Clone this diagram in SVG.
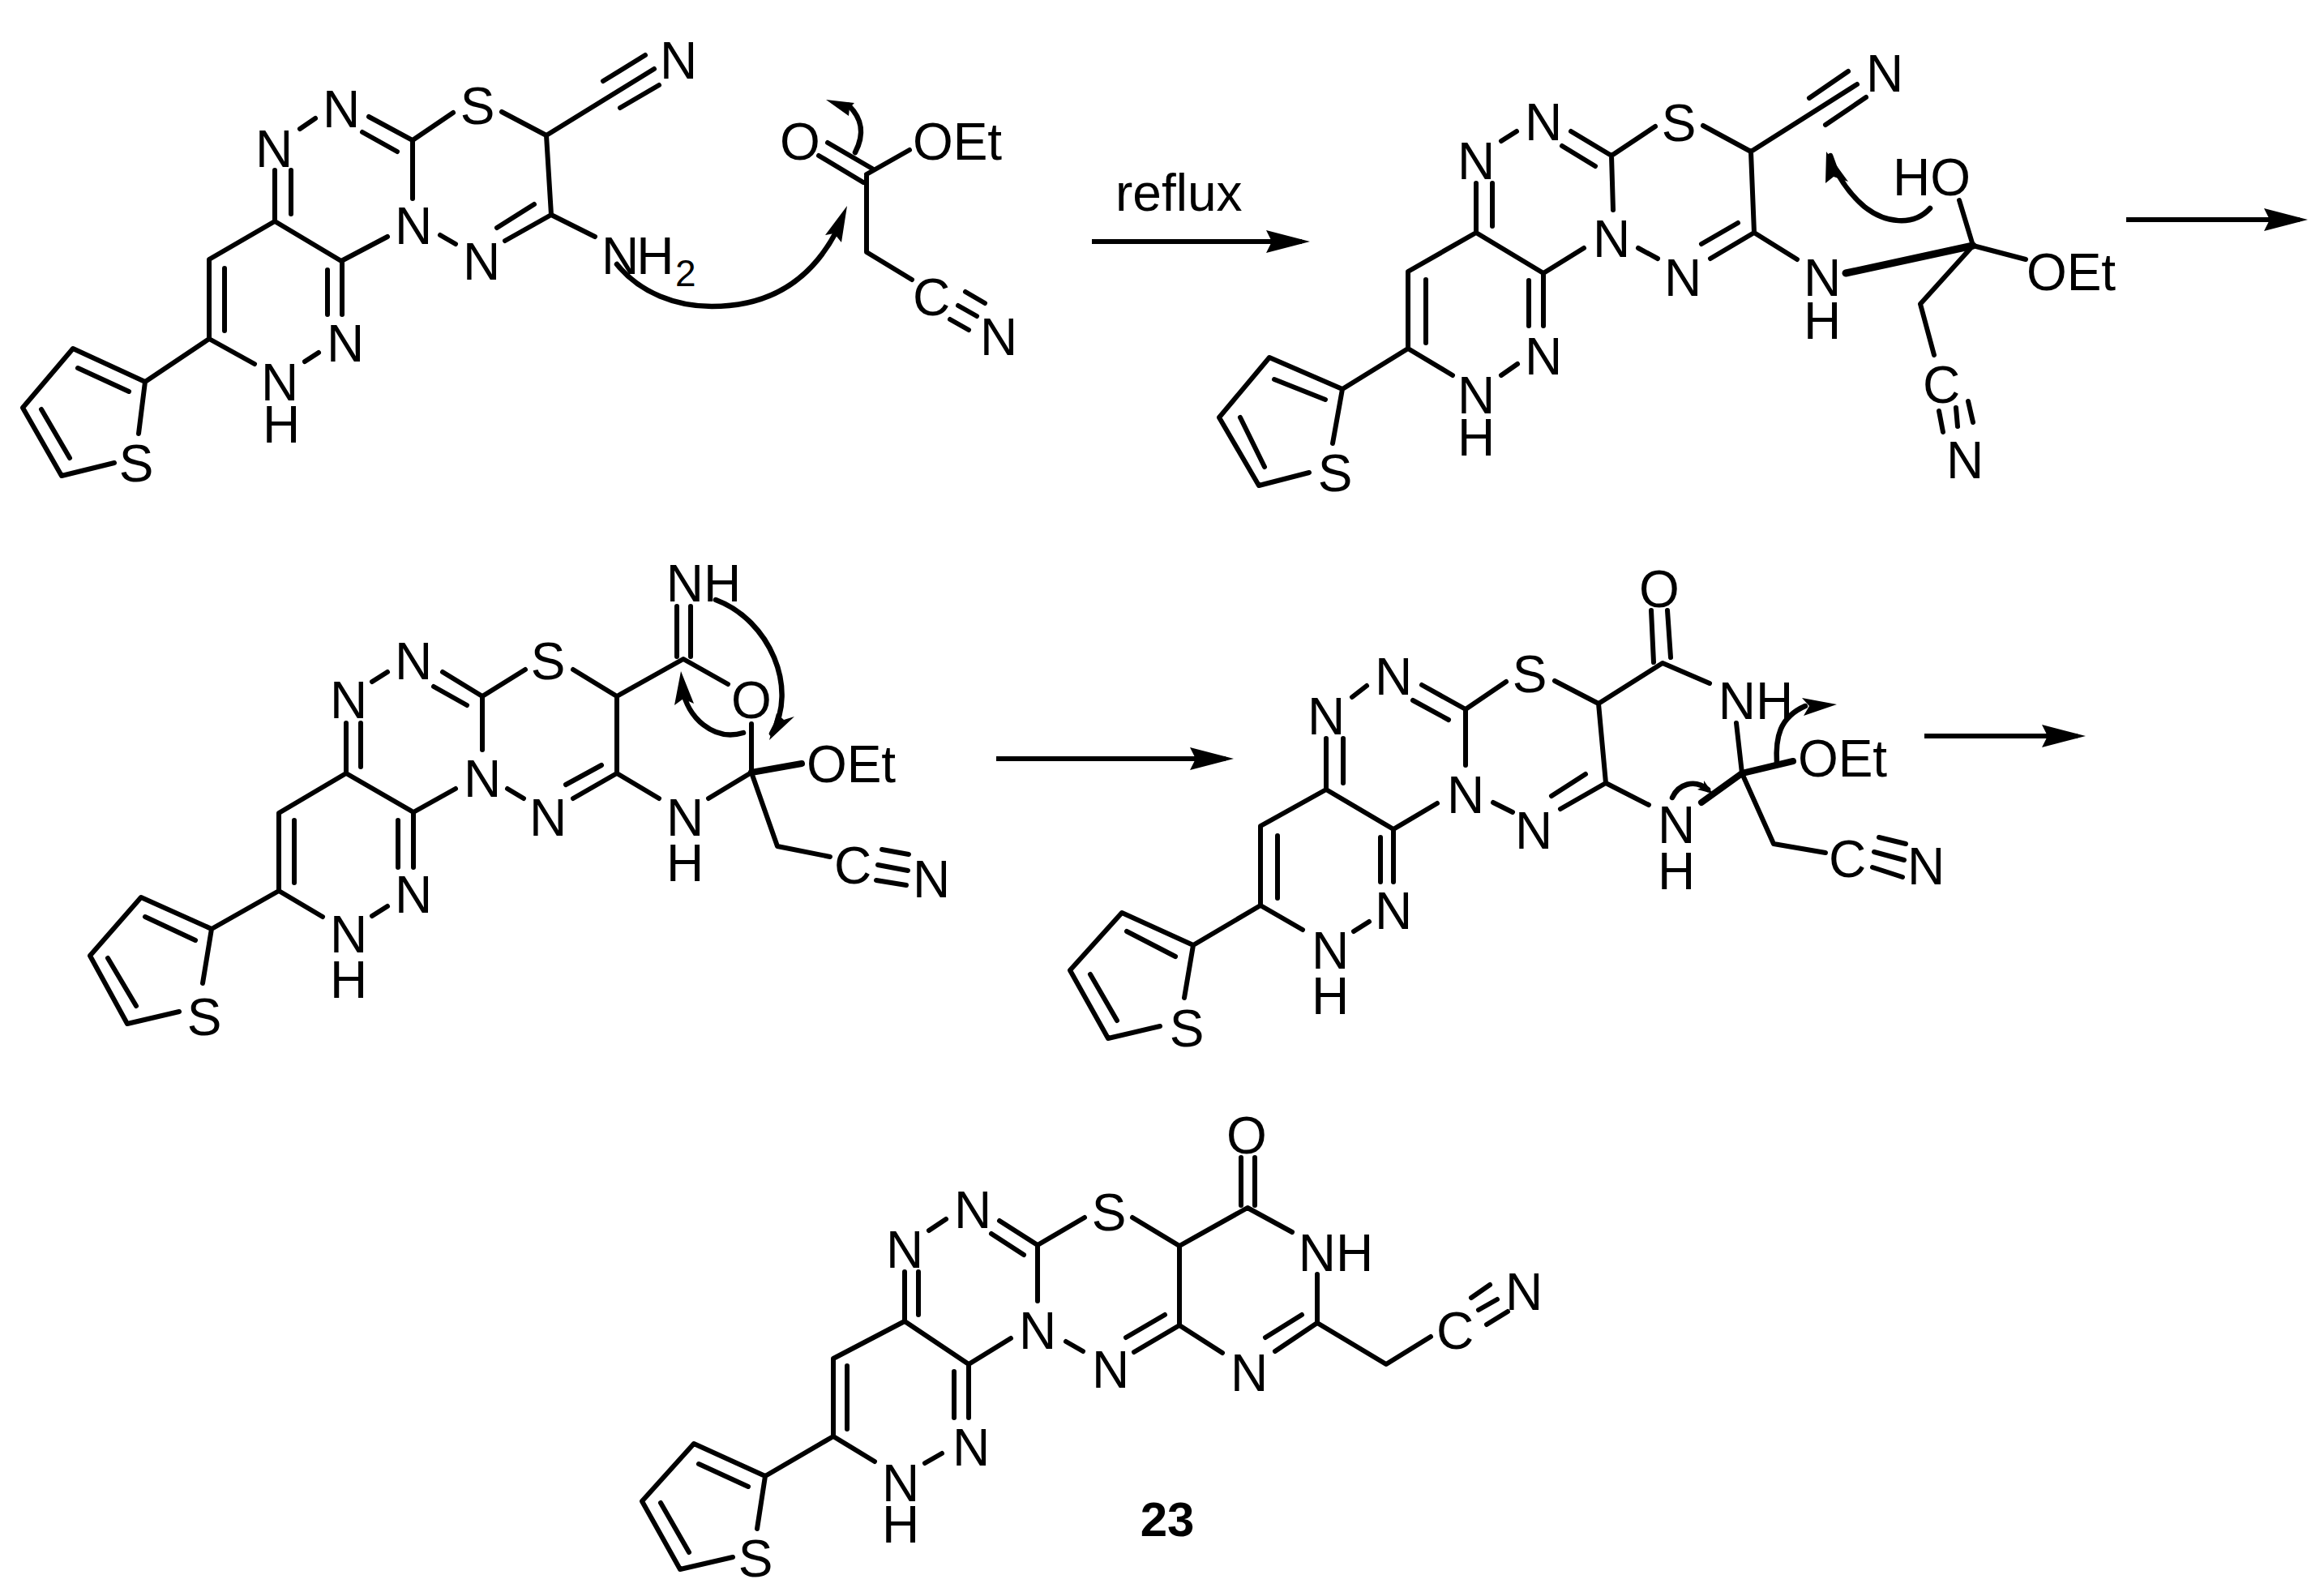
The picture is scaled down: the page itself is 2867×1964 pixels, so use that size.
<svg xmlns="http://www.w3.org/2000/svg" width="2867" height="1964" viewBox="0 0 2867 1964">
<style>
.b{fill:none;stroke:#000;stroke-width:6;stroke-linecap:round;stroke-linejoin:round}
.w{fill:none;stroke:#000;stroke-width:9;stroke-linecap:round}
.m{fill:none;stroke:#000;stroke-width:8;stroke-linecap:round}
.c{fill:none;stroke:#000;stroke-width:6.5;stroke-linecap:round}
.r{fill:none;stroke:#000;stroke-width:6}
.h{fill:#000;stroke:none}
text{font-family:"Liberation Sans",Arial,sans-serif;font-size:64px;fill:#000;text-anchor:middle}
.s{text-anchor:start}
.sub{font-size:46px;text-anchor:start}
.num{font-weight:bold;font-size:60px}
</style>
<defs>
<marker id="arr" markerUnits="userSpaceOnUse" markerWidth="56" markerHeight="30" refX="44" refY="14" orient="auto"><path d="M0,0 L54,14 L0,28 L7,14 z" fill="#000"/></marker>
</defs>
<rect width="2867" height="1964" fill="#fff"/>

<g id="molecule-1">
<path class="b" d="M171,535 L179,471 L90,430 L28,503 L76,587 L141,571 M96,454 L159,483 M51,505 L86,565 M179,471 L258,418 L314,449 M258,418 L258,320 L339,273 L339,210 M277,408 L277,331 M359,264 L359,210 M339,273 L421,322 L478,292 M422,322 L422,388 M404,333 L404,388 M376,446 L393,435 M370,159 L389,146 M455,144 L509,173 L559,139 M447,163 L490,187 M509,173 L509,245 M619,138 L674,167 L680,265 L623,297 M674,167 L807,85 M744,100 L796,68 M765,133 L813,105 M659,252 L613,281 M543,290 L562,301 M680,265 L734,292"/>
<text x="338" y="206">N</text><text x="421" y="157">N</text><text x="589" y="153">S</text><text x="510" y="301">N</text><text x="594" y="345">N</text><text x="837" y="97">N</text><text x="426" y="446">N</text><text x="345" y="494">N</text><text x="347" y="546">H</text><text x="168" y="594">S</text>
<text class="s" x="742" y="338" letter-spacing="-3">NH</text><text class="sub" x="833" y="353">2</text>
</g>

<g id="ethyl-cyanoacetate">
<path class="b" d="M1010,192 L1065,225 M1021,176 L1076,208 M1069,215 L1122,185 M1069,217 L1069,311 L1125,345 M1191,360 L1215,374 M1182,377 L1205,390 M1172,394 L1195,407"/>
<text x="987" y="197">O</text><text x="1181" y="197">OEt</text><text x="1149" y="389">C</text><text x="1232" y="438">N</text>
</g>

<g id="molecule-2">
<path class="b" d="M1644,547 L1656,480 L1566,441 L1504,515 L1553,599 L1615,583 M1572,468 L1635,493 M1530,515 L1560,576 M1656,480 L1737,430 L1792,463 M1737,430 L1737,335 L1821,287 L1821,226 M1759,345 L1759,423 M1841,279 L1841,226 M1821,287 L1904,337 L1954,306 M1904,337 L1904,402 M1886,346 L1886,402 M1852,463 L1872,449 M1852,174 L1871,162 M1938,162 L1988,192 L2042,156 M1927,180 L1968,205 M1988,192 L1990,259 M2101,155 L2160,187 L2164,287 L2110,319 M2160,187 L2291,104 M2232,121 L2280,88 M2252,154 L2302,120 M2144,275 L2099,301 M2021,306 L2045,319 M2164,287 L2217,320 M2434,303 L2417,247 M2434,303 L2499,320 M2434,303 L2369,375 L2386,438 M2392,507 L2397,533 M2413,503 L2415,526 M2428,495 L2434,521"/>
<path class="w" d="M2277,337 L2434,303"/>
<text x="1821" y="221">N</text><text x="1904" y="173">N</text><text x="2071" y="174">S</text><text x="1988" y="317">N</text><text x="2076" y="365">N</text><text x="2325" y="113">N</text><text x="1904" y="462">N</text><text x="1821" y="510">N</text><text x="1821" y="562">H</text><text x="1647" y="606">S</text><text x="2248" y="365">N</text><text x="2248" y="418">H</text><text x="2383" y="241">HO</text><text x="2555" y="358">OEt</text><text x="2395" y="497">C</text><text x="2424" y="590">N</text>
</g>

<g id="molecule-3">
<path class="b" d="M250,1213 L261,1146 L174,1107 L111,1179 L157,1263 L221,1248 M179,1131 L241,1160 M133,1182 L168,1241 M261,1146 L344,1099 L398,1131 M344,1099 L344,1003 L427,954 L427,892 M363,1012 L363,1089 M445,946 L445,892 M427,954 L510,1002 L562,973 M510,1002 L510,1070 M491,1012 L491,1070 M459,1130 L478,1118 M459,841 L478,829 M546,829 L595,859 L648,826 M535,847 L576,870 M595,859 L595,925 M707,826 L761,859 L843,813 L898,844 M835,810 L835,748 M852,810 L852,748 M761,859 L761,954 L707,985 M742,944 L698,968 M626,973 L646,985 M761,954 L813,985 M874,985 L927,953 L927,893 M927,953 L959,1044 L1024,1057 M1088,1048 L1121,1054 M1083,1067 L1120,1074 M1081,1086 L1118,1092"/>
<path class="m" d="M927,953 L989,942"/>
<text x="430" y="886">N</text><text x="510" y="838">N</text><text x="676" y="838">S</text><text x="595" y="983">N</text><text x="676" y="1031">N</text><text x="510" y="1126">N</text><text x="430" y="1175">N</text><text x="430" y="1231">H</text><text x="252" y="1277">S</text><text x="868" y="742">NH</text><text x="927" y="886">O</text><text x="1050" y="965">OEt</text><text x="845" y="1031">N</text><text x="845" y="1087">H</text><text x="1052" y="1090">C</text><text x="1149" y="1107">N</text>
</g>

<g id="molecule-4">
<path class="b" d="M1461,1231 L1472,1166 L1384,1126 L1320,1197 L1367,1281 L1431,1266 M1390,1149 L1450,1180 M1345,1202 L1378,1259 M1472,1166 L1555,1117 L1607,1147 M1555,1117 L1555,1019 L1636,974 L1636,911 M1576,1031 L1576,1108 M1657,966 L1657,911 M1636,974 L1719,1023 L1773,991 M1719,1023 L1719,1088 M1703,1033 L1703,1088 M1670,1149 L1689,1137 M1668,860 L1686,846 M1754,845 L1808,875 L1858,841 M1743,864 L1787,888 M1808,875 L1808,944 M1918,840 L1972,868 L2051,818 L2109,843 M2040,817 L2037,753 M2061,811 L2057,753 M1972,868 L1981,966 L1925,998 M1956,955 L1914,982 M1842,990 L1866,1002 M1981,966 L2034,993 M2149,954 L2142,892 M2149,954 L2188,1041 L2252,1052 M2318,1033 L2351,1041 M2312,1051 L2349,1061 M2310,1070 L2347,1082"/>
<path class="m" d="M2099,990 L2149,954 L2212,939"/>
<text x="1636" y="906">N</text><text x="1719" y="857">N</text><text x="1887" y="854">S</text><text x="1808" y="1003">N</text><text x="1892" y="1047">N</text><text x="1719" y="1146">N</text><text x="1641" y="1195">N</text><text x="1641" y="1251">H</text><text x="1464" y="1291">S</text><text x="2047" y="749">O</text><text x="2166" y="887">NH</text><text x="2273" y="958">OEt</text><text x="2068" y="1040">N</text><text x="2068" y="1097">H</text><text x="2279" y="1082">C</text><text x="2376" y="1091">N</text>
</g>

<g id="molecule-5">
<path class="b" d="M934,1886 L944,1821 L856,1781 L792,1852 L839,1936 L904,1921 M862,1806 L923,1834 M815,1854 L850,1915 M944,1821 L1028,1772 L1079,1803 M1028,1772 L1028,1676 L1116,1630 L1116,1569 M1045,1685 L1045,1763 M1133,1622 L1133,1569 M1116,1630 L1195,1683 L1247,1651 M1195,1683 L1195,1749 M1177,1692 L1177,1749 M1141,1805 L1162,1793 M1146,1518 L1167,1504 M1233,1506 L1280,1536 L1338,1502 M1223,1522 L1263,1548 M1280,1536 L1280,1605 M1397,1502 L1455,1537 L1539,1490 L1594,1520 M1531,1487 L1531,1428 M1548,1487 L1548,1428 M1455,1537 L1455,1635 L1399,1668 M1437,1622 L1389,1650 M1315,1655 L1336,1667 M1455,1635 L1508,1669 M1573,1667 L1625,1632 L1625,1572 M1561,1650 L1606,1622 M1625,1632 L1710,1683 L1765,1649 M1815,1601 L1838,1585 M1824,1616 L1847,1603 M1834,1634 L1860,1618"/>
<text x="1116" y="1564">N</text><text x="1200" y="1515">N</text><text x="1368" y="1518">S</text><text x="1280" y="1664">N</text><text x="1370" y="1712">N</text><text x="1541" y="1716">N</text><text x="1198" y="1808">N</text><text x="1111" y="1852">N</text><text x="1111" y="1903">H</text><text x="932" y="1945">S</text><text x="1538" y="1423">O</text><text x="1648" y="1568">NH</text><text x="1795" y="1664">C</text><text x="1880" y="1616">N</text>
<text class="num" x="1440" y="1895">23</text>
</g>

<text id="reflux-label" class="s" x="1376" y="260">reflux</text>

<g id="connectors">
<path class="r" marker-end="url(#arr)" d="M1347,298 L1606,298"/>
<path class="r" marker-end="url(#arr)" d="M2623,271 L2837,271"/>
<path class="r" marker-end="url(#arr)" d="M1229,936 L1512,936"/>
<path class="r" marker-end="url(#arr)" d="M2374,908 L2563,908"/>
<path class="c" d="M761,326 C790,362 835,378 878,378 C950,378 1000,345 1031,287"/>
<path class="h" d="M1045,254 L1038,299 L1029,288 L1018,290 z"/>
<path class="c" d="M1055,188 C1068,163 1062,145 1047,130"/>
<path class="h" d="M1019,123 L1054,127 L1048,133 L1047,143 z"/>
<path class="c" d="M2381,257 C2360,280 2325,275 2300,255 C2280,238 2265,215 2258,192"/>
<path class="h" d="M2253,187 L2280,224 L2262,218 L2252,226 z"/>
<path class="c" d="M883,740 C950,765 985,850 952,905"/>
<path class="h" d="M949,913 L958,880 L967,888 L980,884 z"/>
<path class="c" d="M917,904 C880,915 848,885 842,850"/>
<path class="h" d="M840,828 L856,868 L843,862 L832,870 z"/>
<path class="c" d="M2192,942 C2190,910 2195,885 2227,871"/>
<path class="h" d="M2266,869 L2225,883 L2232,871 L2223,861 z"/>
<path class="c" d="M2063,984 C2070,968 2090,960 2107,974"/>
<path class="h" d="M2113,979 L2094,974 L2102,970 L2102,963 z"/>
</g>
</svg>
